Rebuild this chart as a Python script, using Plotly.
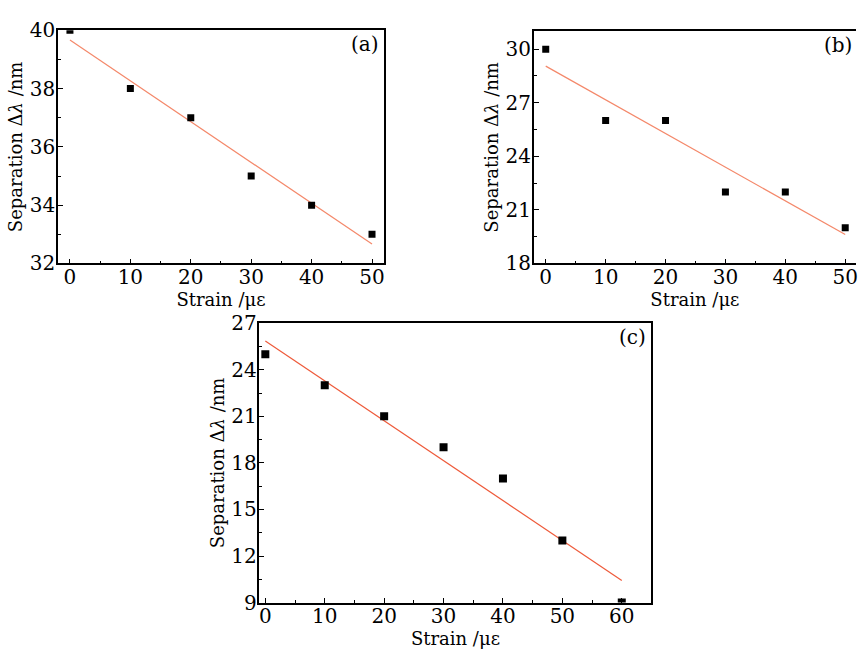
import numpy as np
import plotly.graph_objects as go

# ---- data ----
strain_a = [0, 10, 20, 30, 40, 50]
sep_a = [40, 38, 37, 35, 34, 33]
strain_b = [0, 10, 20, 30, 40, 50]
sep_b = [30, 26, 26, 22, 22, 20]
strain_c = [0, 10, 20, 30, 40, 50, 60]
sep_c = [25, 23, 21, 19, 17, 13, 9]
panel_labels = ["(a)", "(b)", "(c)"]

W, H = 858, 656
FONT = "DejaVu Serif"

fig = go.Figure()

panels = [
    dict(x=strain_a, y=sep_a, xax="x", yax="y", line="#F4886A", msize=7,
         dom_x=(58, 385), dom_y=(19, 261), xr=[-2, 52], yr=[32, 40], ydt=2, ymin=1, ymirror=True),
    dict(x=strain_b, y=sep_b, xax="x2", yax="y2", line="#F4886A", msize=7,
         dom_x=(535, 858), dom_y=(20, 261), xr=[-2, 51.8], yr=[18, 31], ydt=3, ymin=1.5, ymirror=False),
    dict(x=strain_c, y=sep_c, xax="x3", yax="y3", line="#EE5A3A", msize=8,
         dom_x=(260, 653), dom_y=(323, 613), xr=[-1, 65], yr=[9, 27], ydt=3, ymin=1.5, ymirror=True),
]

for i, p in enumerate(panels):
    k = np.polyfit(p["x"], p["y"], 1)
    xs = [min(p["x"]), max(p["x"])]
    ys = [k[0] * v + k[1] for v in xs]
    fig.add_trace(go.Scatter(x=xs, y=ys, mode="lines", line=dict(color=p["line"], width=1.2),
                             xaxis=p["xax"], yaxis=p["yax"], showlegend=False, hoverinfo="skip"))
    fig.add_trace(go.Scatter(x=p["x"], y=p["y"], mode="markers",
                             marker=dict(symbol="square", size=p["msize"], color="black"),
                             xaxis=p["xax"], yaxis=p["yax"], showlegend=False))
    sfx = "" if i == 0 else str(i + 1)
    dx = [p["dom_x"][0] / W, p["dom_x"][1] / W]
    dy = [1 - p["dom_y"][1] / H, 1 - p["dom_y"][0] / H]
    fig.update_layout(**{
        "xaxis" + sfx: dict(domain=dx, range=p["xr"], anchor=p["yax"], dtick=10, tick0=0,
                            ticks="inside", ticklen=5, tickwidth=1.3, tickcolor="black",
                            minor=dict(ticks="inside", ticklen=3, dtick=5, tickcolor="black", tickwidth=1.2),
                            showline=True, linecolor="black", linewidth=1.5, mirror=True,
                            showgrid=False, zeroline=False, ticklabeloverflow="allow",
                            ticklabelstandoff=-5,
                            tickfont=dict(family=FONT, size=20, color="black"),
                            title=dict(text="Strain /με", font=dict(family=FONT, size=18, color="black"),
                                       standoff=0)),
        "yaxis" + sfx: dict(domain=dy, range=p["yr"], anchor=p["xax"], dtick=p["ydt"], tick0=p["yr"][0],
                            ticks="inside", ticklen=5, tickwidth=1.3, tickcolor="black",
                            minor=dict(ticks="inside", ticklen=3, dtick=p["ymin"], tickcolor="black", tickwidth=1.2),
                            showline=True, linecolor="black", linewidth=1.5, mirror=p["ymirror"],
                            showgrid=False, zeroline=False, ticklabeloverflow="allow",
                            ticklabelstandoff=-3,
                            tickfont=dict(family=FONT, size=20, color="black"),
                            title=dict(text="Separation Δ<i>λ</i> /nm",
                                       font=dict(family=FONT, size=18, color="black"), standoff=2)),
    })
    fig.add_annotation(text=panel_labels[i], xref=p["xax"] + " domain", yref=p["yax"] + " domain",
                       x=0.99 if i != 1 else 0.995, y=1.0, xanchor="right", yanchor="top",
                       showarrow=False, font=dict(family=FONT, size=20, color="black"))

fig.update_layout(width=W, height=H, margin=dict(l=0, r=0, t=0, b=0),
                  plot_bgcolor="white", paper_bgcolor="white")

fig.write_html("out.html")
